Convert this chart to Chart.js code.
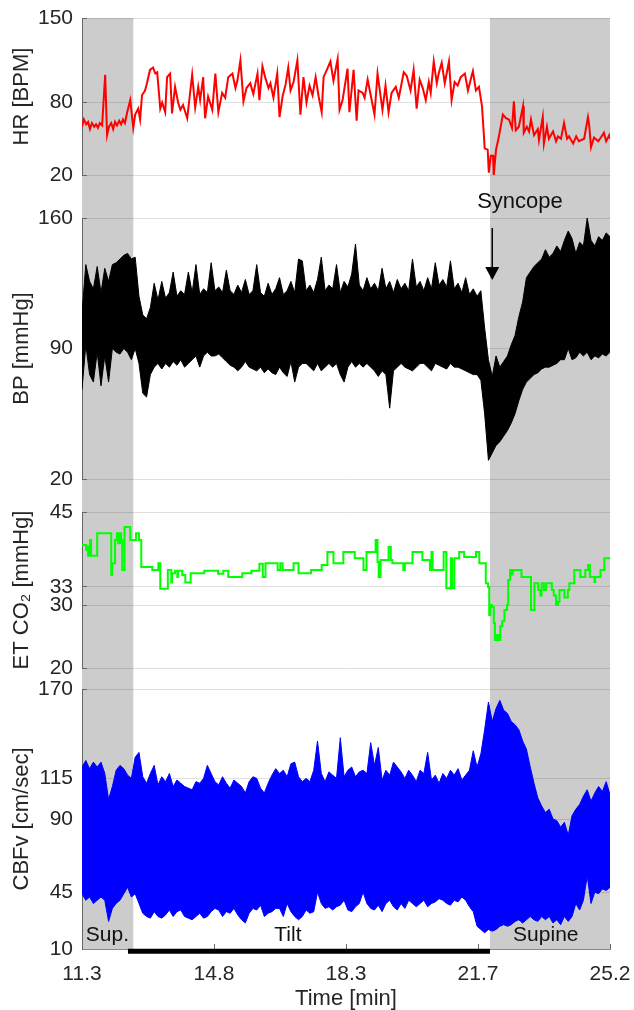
<!DOCTYPE html>
<html>
<head>
<meta charset="utf-8">
<script src="https://cdn.jsdelivr.net/npm/chart.js@4.4.1/dist/chart.umd.min.js"></script>
<style>
html, body { margin: 0; padding: 0; background: #fff; }
#wrap { position: relative; width: 634px; height: 1010px; }
#wrap canvas { position: absolute; left: 0; top: 0; width: 634px; height: 1010px; }
</style>
</head>
<body>
<div id="wrap">
  <canvas id="cbfChart" width="634" height="1010"></canvas>
  <canvas id="co2Chart" width="634" height="1010"></canvas>
  <canvas id="bpChart" width="634" height="1010"></canvas>
  <canvas id="hrChart" width="634" height="1010"></canvas>
</div>
<script>
// time axis [min]
var timeMin = 11.3, timeMax = 25.2;
var timeTicks = [11.3, 14.775, 18.25, 21.725, 25.2];
var timeTickLabels = ['11.3', '14.8', '18.3', '21.7', '25.2'];

// protocol phases
var shadeStart = [11.3, 22.04];
var shadeEnd = [12.65, 25.2];
var tiltStart = 12.51, tiltEnd = 22.04;
var phaseNames = ['Sup.', 'Tilt', 'Supine'];
var phaseNameTime = [11.97, 16.72, 23.51];
var syncopeTime = 22.1;

// heart rate
var hrTicks = [20, 80, 150];
var hrTime = [
  11.30,11.35,11.41,11.46,11.51,11.56,11.62,11.67,11.72,11.77,
  11.83,11.91,11.96,12.01,12.07,12.12,12.17,12.22,12.28,12.33,
  12.38,12.43,12.49,12.57,12.65,12.70,12.78,12.83,12.88,12.96,
  13.01,13.09,13.17,13.23,13.28,13.36,13.41,13.49,13.54,13.62,
  13.67,13.75,13.83,13.89,13.96,14.07,14.20,14.28,14.36,14.41,
  14.49,14.54,14.62,14.73,14.81,14.89,14.99,15.07,15.15,15.26,
  15.34,15.39,15.47,15.55,15.63,15.73,15.81,15.92,15.97,16.05,
  16.13,16.21,16.26,16.34,16.44,16.50,16.58,16.66,16.73,16.79,
  16.87,16.97,17.05,17.13,17.21,17.29,17.37,17.45,17.53,17.61,
  17.66,17.76,17.84,17.92,18.03,18.08,18.16,18.29,18.34,18.45,
  18.53,18.58,18.69,18.74,18.82,18.90,19.00,19.08,19.21,19.29,
  19.37,19.45,19.56,19.64,19.69,19.77,19.85,19.95,20.03,20.11,
  20.19,20.27,20.35,20.43,20.48,20.56,20.64,20.69,20.77,20.85,
  20.96,21.03,21.11,21.19,21.27,21.38,21.46,21.54,21.59,21.67,
  21.75,21.83,21.88,21.90,21.98,22.01,22.06,22.12,22.14,22.20,
  22.27,22.38,22.46,22.54,22.62,22.67,22.72,22.80,22.91,22.93,
  23.01,23.07,23.12,23.20,23.30,23.33,23.43,23.46,23.54,23.59,
  23.70,23.78,23.83,23.91,23.99,24.07,24.12,24.23,24.31,24.38,
  24.52,24.62,24.65,24.70,24.78,24.89,24.96,25.04,25.10,25.18,
  25.20
];
var hrValues = [
  60,66,62,64,58,63,60,62,59,63,
  61,103,53,60,63,58,64,61,65,62,
  66,63,72,82,59,70,75,66,86,90,
  96,107,109,104,105,75,80,72,101,104,
  71,93,80,74,78,67,103,76,93,82,
  101,67,85,74,104,72,88,84,101,104,
  92,98,115,81,92,96,87,104,82,110,
  100,92,96,84,104,68,85,95,109,90,
  97,115,70,101,80,94,86,101,85,72,
  101,108,114,98,116,74,82,108,72,107,
  65,90,88,84,99,86,70,104,74,94,
  72,88,93,84,92,105,102,90,107,75,
  99,92,82,97,88,114,96,104,113,96,
  114,82,97,94,101,104,90,100,106,90,
  93,77,53,42,41,22,36,36,20,41,
  51,70,67,66,59,81,57,60,77,55,
  60,56,66,53,58,49,68,46,60,50,
  56,48,52,50,63,50,52,46,52,48,
  50,68,62,43,51,48,51,55,48,53,
  50
];

// pulsatile signals: beat maxima / minima envelopes sampled on one time grid
var waveTime = [
  11.3,11.4,11.5,11.6,11.7,11.8,11.9,12.0,12.1,12.2,
  12.3,12.4,12.5,12.6,12.7,12.8,12.9,13.0,13.1,13.2,
  13.3,13.4,13.5,13.6,13.7,13.8,13.9,14.0,14.1,14.2,
  14.3,14.4,14.5,14.6,14.7,14.8,14.9,15.0,15.1,15.2,
  15.3,15.4,15.5,15.6,15.7,15.8,15.9,16.0,16.1,16.2,
  16.3,16.4,16.5,16.6,16.7,16.8,16.9,17.0,17.1,17.2,
  17.3,17.4,17.5,17.6,17.7,17.8,17.9,18.0,18.1,18.2,
  18.3,18.4,18.5,18.6,18.7,18.8,18.9,19.0,19.1,19.2,
  19.3,19.4,19.5,19.6,19.7,19.8,19.9,20.0,20.1,20.2,
  20.3,20.4,20.5,20.6,20.7,20.8,20.9,21.0,21.1,21.2,
  21.3,21.4,21.5,21.6,21.7,21.8,21.9,22.0,22.1,22.2,
  22.3,22.4,22.5,22.6,22.7,22.8,22.9,23.0,23.1,23.2,
  23.3,23.4,23.5,23.6,23.7,23.8,23.9,24.0,24.1,24.2,
  24.3,24.4,24.5,24.6,24.7,24.8,24.9,25.0,25.1,25.2
];

// blood pressure
var bpTicks = [20, 90, 160];
var bpUpper = [
  109,135,126,122,134,120,133,126,135,136,
  138,140,141,138,139,118,108,106,112,125,
  116,126,117,120,131,118,121,119,131,120,
  135,119,122,120,136,121,123,120,132,121,
  119,124,120,127,119,121,135,120,118,125,
  119,122,128,119,121,126,120,138,137,121,
  124,120,127,139,121,124,122,135,120,126,
  123,130,146,124,121,128,122,125,121,133,
  122,126,120,127,122,125,121,138,123,126,
  121,128,122,136,124,127,123,137,122,125,
  120,128,119,122,118,121,101,84,75,86,
  80,83,86,92,97,107,115,128,131,134,
  136,138,143,139,141,145,142,148,153,149,
  141,147,145,160,148,145,150,148,152,150
];
var bpLower = [
  68,92,76,72,88,70,86,72,90,88,
  87,90,88,84,90,82,66,64,76,80,
  82,79,82,80,83,81,84,80,82,84,
  86,80,86,88,86,86,87,85,83,81,
  80,78,80,83,80,79,78,80,77,79,
  77,76,80,77,75,83,72,80,82,82,
  80,78,82,78,80,82,80,82,76,72,
  80,83,80,82,80,82,80,78,75,78,
  76,58,78,80,82,80,79,78,80,82,
  82,80,78,82,81,80,79,82,80,80,
  79,78,77,76,76,73,55,30,34,38,
  40,43,46,50,55,62,68,72,74,76,
  77,79,80,80,81,82,84,84,90,84,
  85,88,86,88,84,86,85,87,86,88
];

// end-tidal CO2 (value holds until the next change)
var co2Ticks = [20, 30, 33, 45];
var co2Time = [
  11.30,11.41,11.43,11.46,11.51,11.54,11.70,12.07,12.09,12.17,
  12.22,12.25,12.30,12.33,12.36,12.42,12.57,12.72,12.80,12.86,
  13.15,13.31,13.36,13.56,13.65,13.67,13.75,13.81,13.83,13.94,
  14.02,14.16,14.52,14.88,15.02,15.15,15.52,15.76,15.97,16.06,
  16.13,16.45,16.52,16.58,16.87,17.00,17.33,17.61,17.76,17.92,
  18.18,18.48,18.71,18.79,19.03,19.08,19.11,19.16,19.37,19.43,
  19.47,19.76,19.80,20.00,20.26,20.46,20.50,20.53,20.82,20.89,
  21.01,21.04,21.10,21.23,21.36,21.67,21.76,21.93,21.99,22.02,
  22.05,22.09,22.14,22.17,22.22,22.26,22.31,22.36,22.42,22.49,
  22.52,22.57,22.61,22.64,22.87,23.12,23.21,23.31,23.37,23.40,
  23.46,23.52,23.67,23.72,23.78,23.83,23.87,24.00,24.09,24.13,
  24.26,24.42,24.55,24.62,24.67,24.79,24.81,24.95,25.05,25.20
];
var co2Values = [
  39.7,38.9,39.5,38.0,40.5,38.0,41.6,34.9,36.8,40.5,
  41.6,40.0,41.6,40.5,35.7,42.6,40.5,41.6,40.5,36.2,
  35.7,36.8,32.7,35.7,33.7,35.2,35.6,34.6,35.6,34.9,
  33.7,35.2,35.6,35.1,35.6,34.6,35.2,35.6,36.7,34.6,
  36.8,35.7,36.8,35.7,36.8,35.2,35.7,36.5,38.6,36.8,
  38.6,37.6,35.7,38.6,40.5,37.0,34.6,37.3,39.4,37.3,
  36.8,35.7,36.8,38.6,37.3,35.7,38.6,35.7,38.6,32.8,
  37.6,32.8,37.6,38.6,37.8,38.6,36.8,33.6,33.0,28.5,
  30.1,29.8,27.2,24.5,25.3,24.5,26.7,27.5,29.3,30.1,
  34.1,35.7,35.0,35.7,34.6,29.3,33.6,32.5,31.6,33.6,
  32.5,33.6,32.5,31.6,30.1,30.6,32.5,31.3,32.5,33.6,
  35.7,34.6,35.7,36.5,34.6,33.8,34.6,35.7,37.6,37.6
];

// cerebral blood flow velocity
var cbfTicks = [10, 45, 90, 115, 170];
var cbfUpper = [
  122,126,121,125,122,125,118,102,110,120,
  123,121,117,115,128,131,116,112,118,123,
  111,116,113,118,110,114,112,110,109,108,
  113,112,115,123,118,113,111,116,112,109,
  114,112,110,106,113,116,115,109,106,112,
  117,121,118,120,116,124,125,116,113,115,
  113,120,138,118,113,119,117,115,140,116,
  120,122,116,119,120,118,137,123,134,114,
  120,117,125,122,119,115,120,117,113,120,
  118,131,114,117,112,118,115,120,117,121,
  114,117,120,132,122,130,145,162,150,158,
  163,157,155,150,148,145,138,133,122,112,
  103,98,94,96,90,89,85,88,80,92,
  96,99,104,108,101,106,110,107,113,105
];
var cbfLower = [
  44,40,42,38,40,42,40,27,35,38,
  40,44,48,42,44,38,32,30,29,33,
  30,29,31,34,30,33,34,30,29,28,
  30,32,29,30,33,35,34,30,33,32,
  35,31,28,26,32,35,34,37,30,32,
  33,35,35,30,38,33,30,28,30,34,
  32,33,45,38,35,36,34,36,37,40,
  34,33,36,38,45,38,35,34,37,33,
  38,40,36,34,38,35,40,38,36,38,
  40,36,38,39,41,40,38,37,40,39,
  42,40,36,33,24,22,20,22,21,22,
  24,25,24,25,27,28,26,28,30,28,
  27,30,28,30,26,28,25,30,27,30,
  38,34,40,55,38,45,44,47,46,48
];

// page layout (pixels)
var PAGE_H = 1010, AXIS_W = 82, RIGHT_PAD = 24;
var hrBox = [18, 175], bpBox = [218, 479], co2Box = [512, 668], cbfBox = [689, 949];
var FONT = "'Liberation Sans', Arial, Helvetica, sans-serif";
var TXT = '#262626';

function pts(xs, ys) {
    return xs.map(function (x, i) { return { x: x, y: ys[i] }; });
}

function panel(id, box, yMin, yMax, yTicks, yTitle, datasets, withTime, plugins) {
    return new Chart(document.getElementById(id), {
        type: 'line',
        data: { datasets: datasets },
        options: {
            responsive: false,
            animation: false,
            events: [],
            layout: { padding: { left: 0, right: RIGHT_PAD, top: box[0], bottom: withTime ? 0 : PAGE_H - box[1] } },
            plugins: { legend: { display: false }, tooltip: { enabled: false } },
            elements: { point: { radius: 0 }, line: { tension: 0 } },
            scales: {
                x: {
                    type: 'linear', min: timeMin, max: timeMax, display: withTime,
                    afterBuildTicks: function (s) { s.ticks = timeTicks.map(function (v) { return { value: v }; }); },
                    afterFit: function (s) {
                        if (withTime) s.height = PAGE_H - box[1];
                        s.paddingLeft = 0;
                        s.paddingRight = 0;
                    },
                    grid: { drawOnChartArea: false, tickLength: -5, tickColor: '#666' },
                    border: { color: '#888' },
                    ticks: {
                        autoSkip: false, maxRotation: 0, padding: 18, color: TXT,
                        font: { family: FONT, size: 21 },
                        callback: function (v, i) { return timeTickLabels[i]; }
                    },
                    title: { display: true, text: 'Time [min]', color: TXT, font: { family: FONT, size: 22, lineHeight: 1 }, padding: 0 }
                },
                y: {
                    min: yMin, max: yMax,
                    afterBuildTicks: function (s) { s.ticks = yTicks.map(function (v) { return { value: v }; }); },
                    afterFit: function (s) {
                        s.width = AXIS_W;
                        s.paddingTop = 0;
                        s.paddingBottom = 0;
                    },
                    grid: { color: 'rgba(0,0,0,0.12)', tickLength: -5, tickColor: '#666' },
                    border: { color: '#666' },
                    ticks: { autoSkip: false, padding: 14, color: TXT, font: { family: FONT, size: 21 } },
                    title: { display: true, text: yTitle, color: TXT, font: { family: FONT, size: 22 }, padding: { top: 9, bottom: 0 } }
                }
            }
        },
        plugins: plugins || []
    });
}

// gray phase shading over the full stack + phase names
var phasePlugin = {
    id: 'phases',
    beforeDraw: function (chart) {
        var x = chart.scales.x, ctx = chart.ctx;
        ctx.save();
        ctx.fillStyle = '#cccccc';
        shadeStart.forEach(function (s, k) {
            var x1 = x.getPixelForValue(s), x2 = x.getPixelForValue(shadeEnd[k]);
            ctx.fillRect(x1, hrBox[0], x2 - x1, cbfBox[1] - hrBox[0]);
        });
        ctx.restore();
    },
    afterDatasetsDraw: function (chart) {
        var x = chart.scales.x, y = chart.scales.y, ctx = chart.ctx;
        ctx.save();
        ctx.font = '21px ' + FONT;
        ctx.fillStyle = '#111';
        ctx.textAlign = 'center';
        ctx.textBaseline = 'middle';
        phaseNames.forEach(function (t, i) {
            ctx.fillText(t, x.getPixelForValue(phaseNameTime[i]), y.getPixelForValue(18.6));
        });
        ctx.restore();
    }
};

// syncope marker above the BP trace
var syncopePlugin = {
    id: 'syncope',
    afterDraw: function (chart) {
        var x = chart.scales.x, y = chart.scales.y, ctx = chart.ctx;
        var ax = x.getPixelForValue(syncopeTime);
        var y0 = y.getPixelForValue(154.6), y1 = y.getPixelForValue(126.7);
        ctx.save();
        ctx.strokeStyle = '#000';
        ctx.fillStyle = '#000';
        ctx.lineWidth = 1.5;
        ctx.beginPath();
        ctx.moveTo(ax, y0);
        ctx.lineTo(ax, y1 - 10);
        ctx.stroke();
        ctx.beginPath();
        ctx.moveTo(ax - 7, y1 - 13);
        ctx.lineTo(ax + 7, y1 - 13);
        ctx.lineTo(ax, y1);
        ctx.closePath();
        ctx.fill();
        ctx.font = '22px ' + FONT;
        ctx.fillStyle = '#111';
        ctx.textAlign = 'center';
        ctx.textBaseline = 'middle';
        ctx.fillText('Syncope', x.getPixelForValue(22.83), y.getPixelForValue(168.6));
        ctx.restore();
    }
};

panel('cbfChart', cbfBox, 10, 170, cbfTicks, 'CBFv [cm/sec]', [
    { data: pts(waveTime, cbfLower), borderColor: '#0000ff', borderWidth: 1, fill: false },
    { data: pts(waveTime, cbfUpper), borderColor: '#0000ff', borderWidth: 1, backgroundColor: '#0000ff', fill: '-1' },
    { data: [{ x: tiltStart, y: 8.6 }, { x: tiltEnd, y: 8.6 }], borderColor: '#000', borderWidth: 5, borderCapStyle: 'butt', clip: false, fill: false }
], true, [phasePlugin]);

panel('co2Chart', co2Box, 20, 45, co2Ticks, 'ET CO\u2082 [mmHg]', [
    { data: pts(co2Time, co2Values), borderColor: '#00ff00', borderWidth: 2, stepped: true, fill: false }
], false);

panel('bpChart', bpBox, 20, 160, bpTicks, 'BP [mmHg]', [
    { data: pts(waveTime, bpLower), borderColor: '#000', borderWidth: 1, fill: false },
    { data: pts(waveTime, bpUpper), borderColor: '#000', borderWidth: 1, backgroundColor: '#000', fill: '-1' }
], false, [syncopePlugin]);

panel('hrChart', hrBox, 20, 150, hrTicks, 'HR [BPM]', [
    { data: pts(hrTime, hrValues), borderColor: '#ff0000', borderWidth: 2, fill: false }
], false);
</script>
</body>
</html>
